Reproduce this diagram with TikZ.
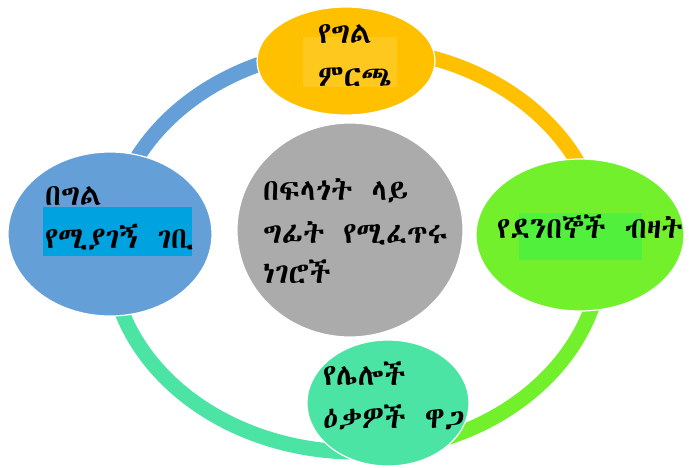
\documentclass[tikz,border=0pt]{standalone}
\usepackage{fontspec}
\IfFontExistsTF{Abyssinica SIL}{\newfontfamily\eth[WordSpace=1.4]{Abyssinica SIL}}{%
  \IfFontExistsTF{FreeSerif}{\newfontfamily\eth[WordSpace=1.4]{FreeSerif}}{%
    \IfFontExistsTF{FreeSerif.otf}{\newfontfamily\eth[WordSpace=1.4]{FreeSerif.otf}}{\newfontfamily\eth{DejaVu Sans}}}}
\usetikzlibrary{shapes.geometric}
\definecolor{cyellow}{RGB}{255,192,0}
\definecolor{cyellowhl}{RGB}{255,200,30}
\definecolor{cblue}{RGB}{100,160,215}
\definecolor{cbluehl}{RGB}{0,162,224}
\definecolor{cgreen}{RGB}{114,240,44}
\definecolor{cgreenhl}{RGB}{80,240,60}
\definecolor{cteal}{RGB}{76,228,164}
\definecolor{cgray}{RGB}{171,171,171}
\begin{document}
\begin{tikzpicture}[x=1pt,y=-1pt,
  blob/.style={ellipse, draw=white, line width=1.2pt, inner sep=0pt},
  ringarc/.style={line width=15pt},
  lbl/.style={anchor=base west, inner sep=0pt, font=\eth\fontsize{30}{34}\selectfont}]
\useasboundingbox (0,0) rectangle (694,467);
\fill[white] (0,0) rectangle (694,467);
\coordinate (ringc) at (356,250);
% ring arcs
\draw[ringarc, cyellow] (ringc) ++(267.7:246 and 202) arc[start angle=267.7, end angle=355, x radius=246, y radius=202];
\draw[ringarc, cgreen] (ringc) ++(355:246 and 202) arc[start angle=355, end angle=440, x radius=246, y radius=202];
\draw[ringarc, cteal] (ringc) ++(80:246 and 202) arc[start angle=80, end angle=184.6, x radius=246, y radius=202];
\draw[ringarc, cblue] (ringc) ++(184.6:246 and 202) arc[start angle=184.6, end angle=267.7, x radius=246, y radius=202];
% ellipses
\node[blob, fill=cyellow, minimum width=178pt, minimum height=108pt] (top) at (346,61) {};
\node[blob, fill=cblue, minimum width=204pt, minimum height=164pt] (left) at (110,234) {};
\node[blob, fill=cgray, minimum width=226pt, minimum height=214pt] (mid) at (350,230) {};
\node[blob, fill=cgreen, minimum width=208pt, minimum height=152pt] (right) at (580,235) {};
\node[blob, fill=cteal, minimum width=162pt, minimum height=126pt] (bottom) at (388,403) {};
% highlights
\fill[cyellowhl] (303,37) rectangle (397,87);
\fill[cbluehl] (43,207) rectangle (192,256);
\fill[cgreenhl] (519,213) rectangle (642,260);
% texts
\node[lbl] (t1) at (318,43) {የግል};
\node[lbl] (t2) at (318,86) {ምርጫ};
\node[lbl] (l1) at (45,205) {በግል};
\node[lbl] (l2) at (45,248) {የሚያገኝ ገቢ};
\node[lbl] (m1) at (263,200) {በፍላጎት ላይ};
\node[lbl] (m2) at (263,243) {ግፊት የሚፈጥሩ};
\node[lbl] (m3) at (263,283) {ነገሮች};
\node[lbl] (r1) at (497,238) {የደንበኞች ብዛት};
\node[lbl] (b1) at (323,385) {የሌሎች};
\node[lbl] (b2) at (323,428) {ዕቃዎች ዋጋ};
\end{tikzpicture}
\end{document}
